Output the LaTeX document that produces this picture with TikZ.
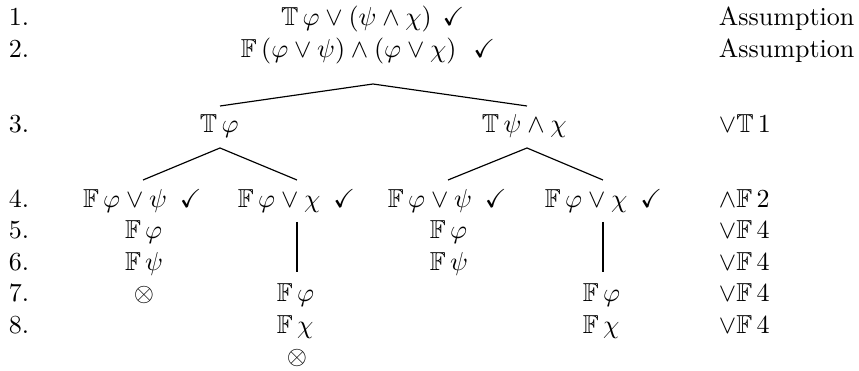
\documentclass[tikz,border=0pt]{standalone}
\usepackage{amssymb}
\begin{document}
\begin{tikzpicture}[x=0.3846pt,y=-0.3846pt,
  lbl/.style={anchor=base west,inner sep=0pt,outer sep=0pt},
  mid/.style={anchor=base,inner sep=0pt,outer sep=0pt},
  branch/.style={line width=0.45pt}]
\useasboundingbox (0,0) rectangle (859,371);
% line numbers
\foreach \i/\y in {1/26,2/57.5,3/133,4/207.5,5/239,6/270.5,7/302,8/333.5}
  \node[lbl] (num\i) at (9,\y) {\i.};
% justifications
\node[lbl] (j1) at (719,26) {Assumption};
\node[lbl] (j2) at (719,57.5) {Assumption};
\node[lbl] (j3) at (719,133) {$\vee\mathbb{T}\,1$};
\node[lbl] (j4) at (719,207.5) {$\wedge\mathbb{F}\,2$};
\node[lbl] (j5) at (719,239) {$\vee\mathbb{F}\,4$};
\node[lbl] (j6) at (719,270.5) {$\vee\mathbb{F}\,4$};
\node[lbl] (j7) at (719,302) {$\vee\mathbb{F}\,4$};
\node[lbl] (j8) at (719,333.5) {$\vee\mathbb{F}\,4$};
% formulas
\node[lbl] (f1) at (281,26) {$\mathbb{T}\,\varphi\vee(\psi\wedge\chi)\hspace{4.2pt}\checkmark$};
\node[lbl] (f2) at (241,57.5) {$\mathbb{F}\,(\varphi\vee\psi)\wedge(\varphi\vee\chi)\hspace{6.5pt}\checkmark$};
\node[lbl] (f3a) at (200,133) {$\mathbb{T}\,\varphi$};
\node[lbl] (f3b) at (482,133) {$\mathbb{T}\,\psi\wedge\chi$};
\node[lbl] (f4a) at (83,207.5) {$\mathbb{F}\,\varphi\vee\psi\hspace{5pt}\checkmark$};
\node[lbl] (f4b) at (238,207.5) {$\mathbb{F}\,\varphi\vee\chi\hspace{5pt}\checkmark$};
\node[lbl] (f4c) at (388,207.5) {$\mathbb{F}\,\varphi\vee\psi\hspace{5pt}\checkmark$};
\node[lbl] (f4d) at (545,207.5) {$\mathbb{F}\,\varphi\vee\chi\hspace{5pt}\checkmark$};
\node[lbl] (f5a) at (125,239) {$\mathbb{F}\,\varphi$};
\node[lbl] (f5c) at (430,239) {$\mathbb{F}\,\varphi$};
\node[lbl] (f6a) at (125,270.5) {$\mathbb{F}\,\psi$};
\node[lbl] (f6c) at (430,270.5) {$\mathbb{F}\,\psi$};
\node[mid] (x7a) at (144,302) {$\otimes$};
\node[lbl] (f7b) at (277,302) {$\mathbb{F}\,\varphi$};
\node[lbl] (f7d) at (583,302) {$\mathbb{F}\,\varphi$};
\node[lbl] (f8b) at (277,333.5) {$\mathbb{F}\,\chi$};
\node[lbl] (f8d) at (583,333.5) {$\mathbb{F}\,\chi$};
\node[mid] (x9b) at (297,365) {$\otimes$};
% branch points
\coordinate (s2) at (373,84);
\coordinate (e3a) at (220,106);
\coordinate (e3b) at (527,106);
\coordinate (s3a) at (220,148);
\coordinate (s3b) at (527,148);
\coordinate (e4a) at (143,180);
\coordinate (e4b) at (297,180);
\coordinate (e4c) at (448,180);
\coordinate (e4d) at (603,180);
\coordinate (s4b) at (297,222);
\coordinate (t4b) at (297,272);
\coordinate (s4d) at (603,222);
\coordinate (t4d) at (603,272);
\draw[branch] (e3a) -- (s2) -- (e3b);
\draw[branch] (e4a) -- (s3a) -- (e4b);
\draw[branch] (e4c) -- (s3b) -- (e4d);
\draw[branch] (s4b) -- (t4b);
\draw[branch] (s4d) -- (t4d);
\end{tikzpicture}
\end{document}
